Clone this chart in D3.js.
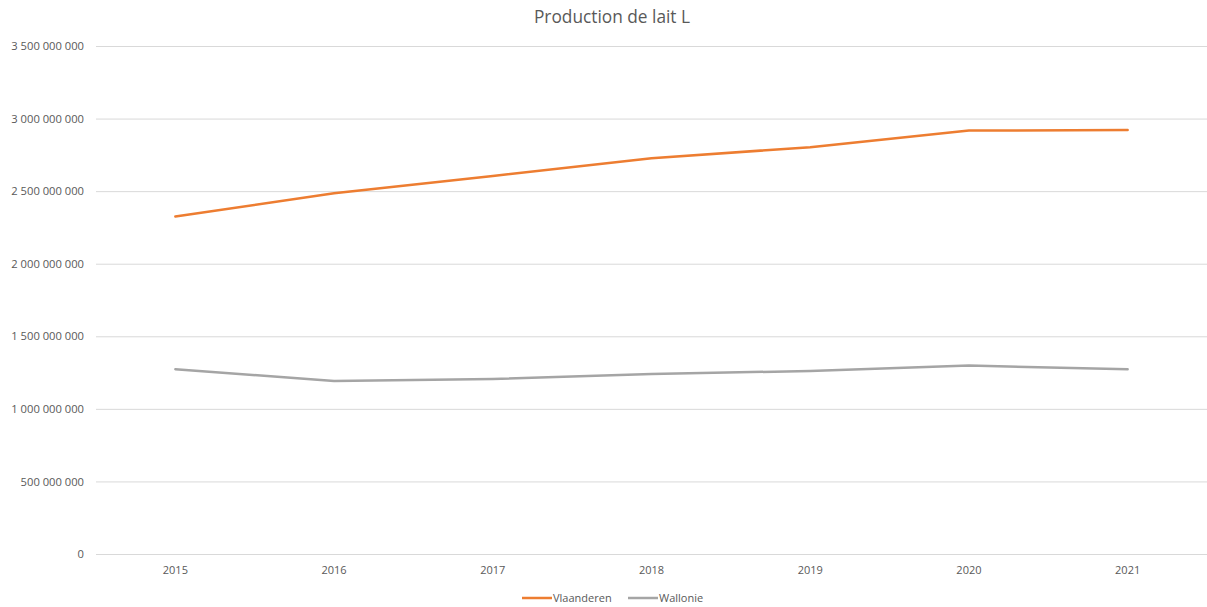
<!DOCTYPE html>
<html><head><meta charset="utf-8">
<script src="https://cdn.jsdelivr.net/npm/d3@7"></script>
<style>body{margin:0;background:#fff}svg{display:block}</style>
</head><body>
<svg id="chart" width="1207" height="607"></svg>
<script>
const years = ["2015","2016","2017","2018","2019","2020","2021"];
const vlaanderen = [2325000000, 2486000000, 2605000000, 2727000000, 2803000000, 2917000000, 2921000000];
const wallonie = [1273000000, 1192000000, 1206000000, 1240000000, 1261000000, 1298000000, 1273000000];
const yTicks = [0, 500000000, 1000000000, 1500000000, 2000000000, 2500000000, 3000000000, 3500000000];
const seriesNames = ["Vlaanderen", "Wallonie"];
const colors = ["#ED7D31", "#A5A5A5"];

(function(){
const svg = d3.select("#chart");
const font = "'Open Sans', 'Segoe UI', sans-serif";
const mLeft = 96, mRight = 1207, mTop = 46, mBottom = 554;

const x = d3.scaleBand().domain(years).range([mLeft, mRight]);
const y = d3.scaleLinear().domain([0, 3500000000]).range([mBottom, mTop]);
const fmt = v => d3.format(",")(v).replace(/,/g, " ");

svg.append("text").attr("x", 612).attr("y", 23).attr("text-anchor", "middle")
  .attr("font-family", font).attr("font-size", 17.3).attr("fill", "#595959")
  .text("Production de lait L");

const yAxis = d3.axisLeft(y).tickValues(yTicks).tickSize(-(mRight - mLeft)).tickFormat(fmt).tickPadding(12);
const gy = svg.append("g").attr("transform", `translate(${mLeft},0)`).call(yAxis);
gy.select(".domain").remove();
gy.selectAll(".tick line").attr("stroke", "#D9D9D9").attr("stroke-width", 1);
gy.selectAll(".tick text").attr("font-family", font).attr("font-size", 11.2).attr("fill", "#595959");

const xAxis = d3.axisBottom(x).tickSize(0).tickPadding(12);
const gx = svg.append("g").attr("transform", `translate(0,${mBottom})`).call(xAxis);
gx.select(".domain").remove();
gx.selectAll(".tick text").attr("font-family", font).attr("font-size", 11).attr("fill", "#595959");

const line = d3.line().x((d, i) => x(years[i]) + x.bandwidth() / 2).y(d => y(d));
[vlaanderen, wallonie].forEach((s, k) => {
  svg.append("path").datum(s).attr("d", line).attr("fill", "none")
    .attr("stroke", colors[k]).attr("stroke-width", 2.5).attr("stroke-linecap", "round").attr("stroke-linejoin", "round");
});

const legend = svg.append("g");
const lx = [522, 628];
seriesNames.forEach((n, k) => {
  legend.append("line").attr("x1", lx[k]).attr("x2", lx[k] + 30).attr("y1", 598).attr("y2", 598)
    .attr("stroke", colors[k]).attr("stroke-width", 2.5);
  legend.append("text").attr("x", lx[k] + 31).attr("y", 602).attr("font-family", font)
    .attr("font-size", 11).attr("fill", "#595959").text(n);
});
})();
</script>
</body></html>
